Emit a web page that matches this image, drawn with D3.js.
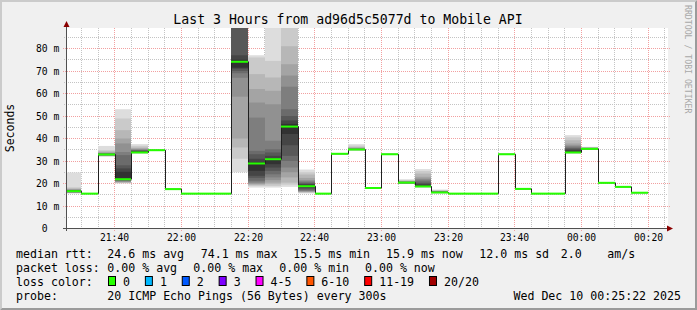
<!DOCTYPE html>
<html><head><meta charset="utf-8">
<script src="https://cdn.jsdelivr.net/npm/d3@7"></script>
<style>
body{margin:0;background:#f0f0f0;}
svg{display:block;}
text{font-family:"DejaVu Sans Mono",monospace;white-space:pre;}
</style></head><body>
<svg id="c" width="697" height="310"></svg>
<script>
// ---------------- data ----------------
const stepEnds = ["21:30","21:35","21:40","21:45","21:50","21:55","22:00","22:05","22:10","22:15",
  "22:20","22:25","22:30","22:35","22:40","22:45","22:50","22:55","23:00","23:05",
  "23:10","23:15","23:20","23:25","23:30","23:35","23:40","23:45","23:50","23:55",
  "00:00","00:05","00:10","00:15","00:20"];
const medians = [16.6,15.5,32.9,21.9,33.8,34.8,17.5,15.5,15.5,15.5,
  74.1,28.9,30.8,45.3,18.8,15.5,33.2,35.1,18.0,33.0,
  20.4,18.7,16.0,15.5,15.5,15.5,33.0,17.6,15.5,15.5,
  33.8,35.4,20.3,18.5,15.9];
const pings = [
  [15.6,15.7,15.8,15.9,16.0,16.1,16.2,16.3,16.4,16.5,16.7,16.8,16.9,17.0,17.1,17.3,17.5,17.8,18.3,24.9],
  null,
  [32.0,32.1,32.2,32.3,32.4,32.5,32.6,32.7,32.8,32.9,33.0,33.1,33.2,33.3,33.4,33.6,33.8,34.3,34.8,36.7],
  [20.0,20.2,20.4,20.6,20.8,21.0,21.2,21.5,21.8,22.5,25.2,26.7,28.1,32.6,34.0,37.8,40.0,43.7,48.9,53.0],
  [33.3,33.4,33.5,33.6,33.7,33.7,33.8,33.8,33.9,34.0,34.2,34.4,34.6,34.8,35.0,35.2,35.6,36.0,36.7,37.5],
  null, null, null, null, null,
  [25.0,31.0,36.0,40.0,58.6,67.0,69.0,70.0,71.0,71.5,75.0,77.0,92,95,98,100,105,110,115,120],
  [18.2,18.9,19.3,19.7,20.0,20.5,21.2,22.5,23.4,25.6,29.5,31.0,33.0,34.5,49.3,56.0,62.0,68.6,76.0,77.0],
  [18.2,18.9,19.7,20.4,21.5,22.7,24.1,25.6,27.1,28.6,30.8,32.3,33.8,35.2,39.0,55.2,61.2,67.1,74.5,95],
  [18.5,19.5,20.4,22.7,25.0,27.1,30.0,32.3,37.0,42.0,46.5,48.0,50.0,53.0,63.0,68.0,73.0,81.0,95,110],
  [15.6,15.9,16.1,16.3,16.5,16.7,17.0,17.5,18.0,18.6,19.3,19.8,20.0,20.5,21.0,21.5,22.5,24.0,25.0,26.2],
  null, null,
  [34.6,34.7,34.8,34.9,34.9,35.0,35.0,35.1,35.1,35.1,35.2,35.2,35.3,35.4,35.5,35.7,35.9,36.2,36.8,37.5],
  null, null,
  [19.8,19.9,20.0,20.0,20.1,20.1,20.2,20.2,20.3,20.3,20.4,20.5,20.6,20.7,20.8,20.9,21.0,21.2,21.5,21.9],
  [18.2,18.3,18.4,18.5,18.5,18.5,18.5,18.6,18.7,18.9,19.3,19.8,20.3,21.0,21.7,22.2,23.0,24.4,25.5,26.4],
  [15.6,15.7,15.8,15.8,15.9,15.9,15.9,16.0,16.0,16.0,16.1,16.2,16.3,16.4,16.5,16.6,16.7,16.8,17.0,17.3],
  null, null, null, null, null, null, null,
  [33.3,33.4,33.5,33.6,33.7,33.7,33.8,33.8,33.9,34.0,34.5,35.0,35.5,35.9,36.5,37.0,37.8,39.2,40.5,41.5],
  [35.0,35.1,35.2,35.2,35.3,35.3,35.3,35.4,35.4,35.4,35.5,35.5,35.6,35.6,35.7,35.8,35.9,36.0,36.1,36.3],
  null, null, null
];
const yTickValues = [0,10,20,30,40,50,60,70,80];
const yTickLabels = [" 0","10 m","20 m","30 m","40 m","50 m","60 m","70 m","80 m"];
const lossLabels = ["0","1","2","3","4-5","6-10","11-19","20/20"];
const lossColors = ["#26ff00","#00b8ff","#0059ff","#7e00ff","#ff00ff","#ff5500","#ff0000","#a10000"];
const rttStats = ["24.6 ms avg","74.1 ms max","15.5 ms min","15.9 ms now","12.0 ms sd","2.0","am/s"];
const lossStats = ["0.00 % avg","0.00 % max","0.00 % min","0.00 % now"];
const titleText = "Last 3 Hours from ad96d5c5077d to Mobile API";
const probeText = "20 ICMP Echo Pings (56 Bytes) every 300s";
const dateText = "Wed Dec 10 00:25:22 2025";

// ---------------- layout ----------------
const W = 697, H = 310;
const X0 = 66, X1 = 666, Y0 = 228.5, Y1 = 28.5;
const svg = d3.select("#c");

function toDate(hm) {
  const [h, m] = hm.split(":").map(Number);
  return new Date(2025, 11, h < 12 ? 10 : 9, h, m, 0);
}
const tStart = new Date(2025, 11, 9, 21, 25, 22);
const tEnd = new Date(2025, 11, 10, 0, 25, 22);
const x = d3.scaleTime().domain([tStart, tEnd]).range([X0, X1]);
const y = d3.scaleLinear().domain([0, 88.889]).range([Y0, Y1]);

const steps = stepEnds.map((s, i) => {
  const e = toDate(s);
  const b = new Date(e.getTime() - 300000);
  return { x0: Math.max(X0, Math.round(x(b))), x1: Math.round(x(e)), m: medians[i], p: pings[i] };
});

// background + frame
svg.append("rect").attr("width", W).attr("height", H).attr("fill", "#f0f0f0");
svg.append("path").attr("d", `M0,0H${W}L${W-2},2H2V${H-2}L0,${H}Z`).attr("fill", "#cbcbcb");
svg.append("path").attr("d", `M${W},0V${H}H0L2,${H-2}H${W-2}V2Z`).attr("fill", "#9b9b9b");

// canvas
svg.append("rect").attr("x", X0).attr("y", 28).attr("width", 602).attr("height", 200).attr("fill", "#ffffff");

// grid
const g = svg.append("g");
const minorY = d3.range(0, 89, 5);
minorY.forEach(v => {
  if (v % 10 === 0) return;
  const yy = Math.floor(y(v)) + 0.5;
  g.append("line").attr("x1", X0 - 2).attr("x2", 668).attr("y1", yy).attr("y2", yy)
    .attr("stroke", "#c4c4c4").attr("stroke-dasharray", "1,1");
});
yTickValues.forEach(v => {
  if (v === 0) return;
  const yy = Math.floor(y(v)) + 0.5;
  g.append("line").attr("x1", X0 - 3).attr("x2", 670).attr("y1", yy).attr("y2", yy)
    .attr("stroke", "#f2a0a0").attr("stroke-dasharray", "1,1");
});
x.ticks(d3.timeMinute.every(5)).forEach(t => {
  if (t.getMinutes() % 20 === 0) return;
  const xx = Math.floor(x(t)) + 0.5;
  g.append("line").attr("x1", xx).attr("x2", xx).attr("y1", 28).attr("y2", 230)
    .attr("stroke", "#c4c4c4").attr("stroke-dasharray", "1,1");
});
const majorTicks = x.ticks(d3.timeMinute.every(20));
majorTicks.forEach(t => {
  const xx = Math.floor(x(t)) + 0.5;
  g.append("line").attr("x1", xx).attr("x2", xx).attr("y1", 28).attr("y2", 232)
    .attr("stroke", "#f2a0a0").attr("stroke-dasharray", "1,1");
});

// clip
svg.append("clipPath").attr("id", "pc").append("rect")
  .attr("x", X0).attr("y", 28).attr("width", 602).attr("height", 200.5);
const plot = svg.append("g").attr("clip-path", "url(#pc)");

// smoke
steps.forEach(s => {
  if (!s.p) return;
  const n = s.p.length, half = n / 2;
  for (let ib = 1, it = n; it > ib; ib++, it--) {
    const c = Math.floor(190 / half * (half - ib)) + 50;
    const lo = s.p[ib - 1], hi = s.p[it - 1];
    plot.append("rect").attr("x", s.x0).attr("width", s.x1 - s.x0)
      .attr("y", y(hi)).attr("height", Math.max(0, y(lo) - y(hi)))
      .attr("fill", d3.rgb(c, c, c));
  }
});

// median thin line
const pts = [];
steps.forEach(s => { pts.push([s.x0, s.m]); pts.push([s.x1, s.m]); });
plot.append("path")
  .attr("d", d3.line().x(d => d[0] + 0.5).y(d => y(d[1]))(pts))
  .attr("fill", "none").attr("stroke", "#202020").attr("stroke-width", 1);

// median loss-colored band (all 0 loss)
steps.forEach(s => {
  plot.append("rect").attr("x", s.x0).attr("width", s.x1 - s.x0)
    .attr("y", y(s.m) - 1).attr("height", 2).attr("fill", lossColors[0]);
});

// axes
svg.append("line").attr("x1", X0 - 3).attr("x2", 668).attr("y1", 228.5).attr("y2", 228.5)
  .attr("stroke", "#505050");
svg.append("line").attr("x1", X0 + 0.5).attr("x2", X0 + 0.5).attr("y1", 231).attr("y2", 25)
  .attr("stroke", "#505050");
svg.append("path").attr("d", "M667,225.5L673,228.5L667,231.5Z").attr("fill", "#8b0000");
svg.append("path").attr("d", "M63.5,27L66.5,21L69.5,27Z").attr("fill", "#8b0000");

// tick labels
yTickValues.forEach((v, i) => {
  svg.append("text").attr("x", 36).attr("y", Math.floor(y(v)) + 0.5 + 3.5)
    .attr("font-size", "9.7px").attr("fill", "#000").text(yTickLabels[i]);
});
const fmt = d3.timeFormat("%H:%M");
majorTicks.forEach(t => {
  svg.append("text").attr("x", Math.floor(x(t)) + 0.5).attr("y", 241)
    .attr("text-anchor", "middle").attr("font-size", "9.7px").attr("fill", "#000").text(fmt(t));
});

// title, y label, watermark
svg.append("text").attr("x", 348).attr("y", 23.5).attr("text-anchor", "middle")
  .attr("font-size", "13.2px").attr("fill", "#000").text(titleText);
svg.append("text").attr("transform", "translate(14,128) rotate(-90)").attr("text-anchor", "middle")
  .attr("font-size", "11.5px").attr("fill", "#000").text("Seconds");
svg.append("text").attr("transform", "translate(685,5) rotate(90)")
  .attr("font-size", "8.2px").attr("fill", "#a8a8a8").text("RRDTOOL / TOBI OETIKER");

// legend
const LF = "11.6px", CW = 6.98;
function lt(xx, yy, s, anchor) {
  return svg.append("text").attr("x", xx).attr("y", yy).attr("font-size", LF)
    .attr("fill", "#000").attr("text-anchor", anchor || "start").text(s);
}
const rttX = [107.3, 200.7, 293.3, 386, 479.3, 560.7, 607.3];
const lossX = [107.3, 193.3, 279.3, 365];
lt(16, 258.3, "median rtt:");
rttStats.forEach((s, i) => lt(rttX[i], 258.3, s));
lt(16, 272.3, "packet loss:");
lossStats.forEach((s, i) => lt(lossX[i], 272.3, s));
lt(16, 286.3, "loss color:");
let sx = 108;
lossLabels.forEach((l, i) => {
  svg.append("rect").attr("x", sx + 0.5).attr("y", 276.5).attr("width", 7).attr("height", 9)
    .attr("fill", lossColors[i]).attr("stroke", "#000").attr("stroke-width", 1);
  lt(sx + 15, 286.3, l);
  sx += 15 + l.length * CW + 14.9;
});
lt(16, 300.3, "probe:");
lt(107.3, 300.3, probeText);
lt(681, 300.3, dateText, "end");
</script>
</body></html>
